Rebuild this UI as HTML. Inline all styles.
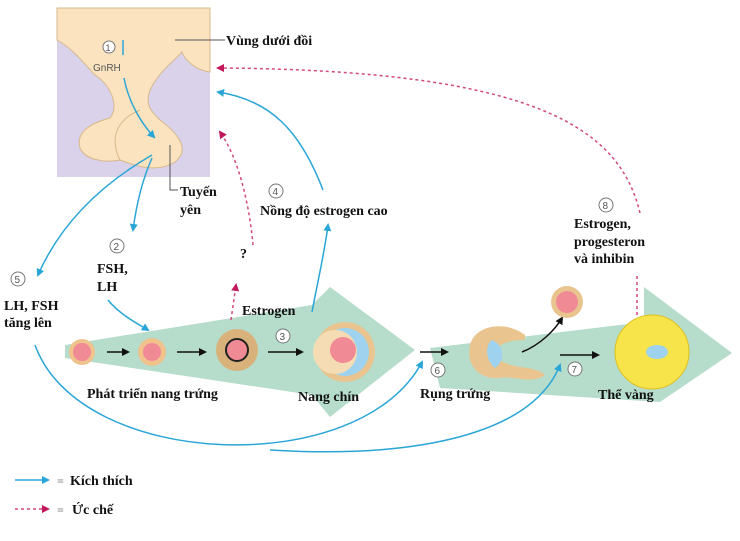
<!DOCTYPE html>
<html><head><meta charset="utf-8"><style>
body{margin:0;background:#fff;width:740px;height:541px;overflow:hidden}
svg{display:block}
text{font-family:"Liberation Serif",serif;font-weight:bold;font-size:14px;fill:#111}
.c{font-family:"Liberation Sans",sans-serif;font-weight:normal;font-size:10px;fill:#555}
</style></head><body>
<svg width="740" height="541" viewBox="0 0 740 541">
<defs>
<marker id="b" markerWidth="8" markerHeight="8" refX="6" refY="4" orient="auto" markerUnits="userSpaceOnUse"><path d="M0,0 L8,4 L0,8 Z" fill="#2aa6d6"/></marker>
<marker id="p" markerWidth="8" markerHeight="8" refX="6" refY="4" orient="auto" markerUnits="userSpaceOnUse"><path d="M0,0 L8,4 L0,8 Z" fill="#c2185b"/></marker>
<marker id="k" markerWidth="8" markerHeight="8" refX="6" refY="4" orient="auto" markerUnits="userSpaceOnUse"><path d="M0,0 L8,4 L0,8 Z" fill="#111"/></marker>
</defs>
<rect x="57" y="8" width="153" height="169" fill="#d9d2ea"/>
<path d="M57,8 H210 V72 C195,70 185,60 182,52 C175,60 160,70 150,90 C145,105 150,110 160,120 C180,135 190,150 175,162 C160,172 140,168 120,160 C105,163 85,160 80,148 C75,130 95,122 110,118 C120,105 110,85 95,75 C85,65 75,50 57,40 Z" fill="#fbe3bf" stroke="#d7b88b" stroke-width="1"/>
<path d="M120,160 C110,140 115,120 140,110" fill="none" stroke="#d7b88b"/>
<circle cx="109" cy="47" r="6" fill="#fff" stroke="#777"/><text x="105.5" y="51" class="c" style="font-size:9px">1</text>
<text x="93" y="71" class="c">GnRH</text>
<path d="M123,40 V55" stroke="#2aa6d6" stroke-width="1.5"/>
<path d="M124,78 C128,100 140,122 154,137" fill="none" stroke="#2aa6d6" stroke-width="1.5" marker-end="url(#b)"/>
<path d="M175,40 H225" stroke="#555"/><text x="226" y="45">Vùng dưới đồi</text>
<path d="M170,145 V190 H178" fill="none" stroke="#555"/>
<text x="180" y="196">Tuyến</text><text x="180" y="214">yên</text>
<polygon points="65,345 312,305 330,287 415,350 330,417 312,395 65,358" fill="#b6dccb"/>
<polygon points="430,348 644,322 644,287 732,353 660,402 440,388" fill="#b6dccb"/>
<circle cx="82" cy="352" r="13" fill="#f0c28c"/><circle cx="82" cy="352" r="9" fill="#f08a95"/>
<circle cx="152" cy="352" r="14" fill="#f0c28c"/><circle cx="152" cy="352" r="9" fill="#f08a95"/>
<circle cx="237" cy="350" r="21" fill="#d8b27a"/><circle cx="237" cy="350" r="11" fill="#f08a95" stroke="#222" stroke-width="2"/>
<circle cx="345" cy="352" r="30" fill="#e9c48f"/><circle cx="345" cy="352" r="24" fill="#9ed2ee"/><circle cx="335" cy="352" r="22" fill="#f6dcb5"/><circle cx="343" cy="350" r="13" fill="#f08a95"/>
<path d="M107,352 H128" stroke="#111" stroke-width="1.5" marker-end="url(#k)"/>
<path d="M177,352 H205" stroke="#111" stroke-width="1.5" marker-end="url(#k)"/>
<path d="M268,352 H302" stroke="#111" stroke-width="1.5" marker-end="url(#k)"/>
<path d="M420,352 H447" stroke="#111" stroke-width="1.5" marker-end="url(#k)"/>
<path d="M560,355 H598" stroke="#111" stroke-width="1.5" marker-end="url(#k)"/>
<path d="M522,352 C540,345 555,330 562,318" fill="none" stroke="#111" stroke-width="1.5" marker-end="url(#k)"/>
<path d="M525,335 C505,320 475,325 470,345 C465,370 485,380 500,378 C515,375 530,385 545,375 C535,365 515,370 500,360 C490,350 500,340 525,340 Z" fill="#e9c48f"/>
<path d="M492,340 C505,345 505,362 495,368 C485,360 485,345 492,340Z" fill="#9ed2ee"/>
<circle cx="567" cy="302" r="16" fill="#e9c48f"/><circle cx="567" cy="302" r="11" fill="#f08a95"/>
<circle cx="652" cy="352" r="37" fill="#f7e44a" stroke="#e0c020"/><ellipse cx="657" cy="352" rx="11" ry="7" fill="#9ed2ee"/>
<g><circle cx="283" cy="336" r="7" fill="#fff" stroke="#777"/><text x="279.5" y="340" class="c">3</text>
<circle cx="438" cy="370" r="7" fill="#fff" stroke="#777"/><text x="434.5" y="374" class="c">6</text>
<circle cx="575" cy="369" r="7" fill="#fff" stroke="#777"/><text x="571.5" y="373" class="c">7</text>
<circle cx="117" cy="246" r="7" fill="#fff" stroke="#777"/><text x="113.5" y="250" class="c">2</text>
<circle cx="18" cy="279" r="7" fill="#fff" stroke="#777"/><text x="14.5" y="283" class="c">5</text>
<circle cx="276" cy="191" r="7" fill="#fff" stroke="#777"/><text x="272.5" y="195" class="c">4</text>
<circle cx="606" cy="205" r="7" fill="#fff" stroke="#777"/><text x="602.5" y="209" class="c">8</text></g>
<text x="97" y="273">FSH,</text><text x="97" y="291">LH</text>
<text x="4" y="310">LH, FSH</text><text x="4" y="327">tăng lên</text>
<text x="260" y="215">Nồng độ estrogen cao</text>
<text x="240" y="258">?</text>
<text x="242" y="315">Estrogen</text>
<text x="574" y="228">Estrogen,</text><text x="574" y="246">progesteron</text><text x="574" y="263">và inhibin</text>
<text x="87" y="398">Phát triển nang trứng</text>
<text x="298" y="401">Nang chín</text>
<text x="420" y="398">Rụng trứng</text>
<text x="598" y="399">Thể vàng</text>
<path d="M152,158 C140,185 135,215 133,230" fill="none" stroke="#2aa6d6" stroke-width="1.5" marker-end="url(#b)"/>
<path d="M152,155 C100,185 60,225 38,275" fill="none" stroke="#2aa6d6" stroke-width="1.5" marker-end="url(#b)"/>
<path d="M108,300 C120,315 140,325 148,330" fill="none" stroke="#2aa6d6" stroke-width="1.5" marker-end="url(#b)"/>
<path d="M312,312 C318,280 325,250 328,225" fill="none" stroke="#2aa6d6" stroke-width="1.5" marker-end="url(#b)"/>
<path d="M323,190 C300,130 270,100 218,92" fill="none" stroke="#2aa6d6" stroke-width="1.5" marker-end="url(#b)"/>
<path d="M35,345 C80,470 360,480 422,362" fill="none" stroke="#2aa6d6" stroke-width="1.5" marker-end="url(#b)"/>
<path d="M270,450 C400,458 530,440 560,365" fill="none" stroke="#2aa6d6" stroke-width="1.5" marker-end="url(#b)"/>
<path d="M253,245 C250,210 240,160 220,132" fill="none" stroke="#d4477e" stroke-width="1.5" stroke-dasharray="3,3" marker-end="url(#p)"/>
<path d="M231,320 L236,285" fill="none" stroke="#d4477e" stroke-width="1.5" stroke-dasharray="3,3" marker-end="url(#p)"/>
<path d="M637,315 V275" fill="none" stroke="#d4477e" stroke-width="1.5" stroke-dasharray="3,3"/>
<path d="M640,213 C620,130 540,70 218,68" fill="none" stroke="#d4477e" stroke-width="1.5" stroke-dasharray="3,3" marker-end="url(#p)"/>
<path d="M15,480 H48" stroke="#2aa6d6" stroke-width="1.5" marker-end="url(#b)"/><text x="57" y="485" style="fill:#888;font-size:12px">=</text>
<text x="70" y="485">Kích thích</text>
<path d="M15,509 H48" stroke="#d4477e" stroke-width="1.5" stroke-dasharray="3,3" marker-end="url(#p)"/><text x="57" y="514" style="fill:#888;font-size:12px">=</text>
<text x="72" y="514">Ức chế</text>
</svg>
</body></html>
